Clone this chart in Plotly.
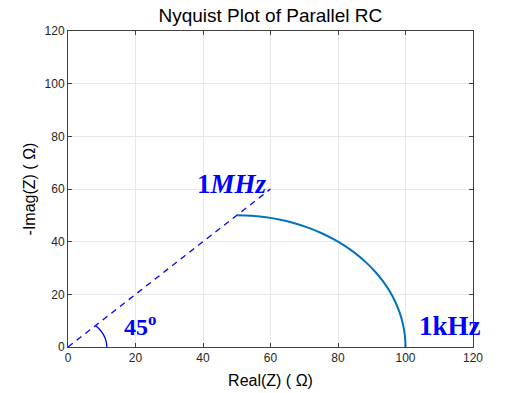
import plotly.graph_objects as go

# Nyquist curve of parallel RC
real_z = [100.0, 99.95, 99.81, 99.24, 98.30, 96.98, 95.32, 93.30, 90.96, 88.30, 85.36,
          82.14, 78.68, 75.00, 71.13, 67.10, 62.94, 58.68, 54.36, 50.00]
neg_imag_z = [0.0, 2.18, 4.36, 8.68, 12.94, 17.10, 21.13, 25.00, 28.68, 32.14, 35.36,
              38.30, 40.96, 43.30, 45.32, 46.98, 48.30, 49.24, 49.81, 50.00]

# 45 degree reference line
ref_x = [0, 60]
ref_y = [0, 60]

# angle arc
arc_x = [11.5, 11.40, 11.11, 10.62, 9.96, 9.12, 8.13]
arc_y = [0.0, 1.50, 2.98, 4.40, 5.75, 7.00, 8.13]

ticks = [0, 20, 40, 60, 80, 100, 120]

fig = go.Figure()
fig.add_trace(go.Scatter(x=ref_x, y=ref_y, mode="lines",
                         line=dict(color="#0000FF", width=1.3, dash="6px,5px"), hoverinfo="skip"))
fig.add_trace(go.Scatter(x=arc_x, y=arc_y, mode="lines", line_shape="spline",
                         line=dict(color="#0000FF", width=1.3), hoverinfo="skip"))
fig.add_trace(go.Scatter(x=real_z, y=neg_imag_z, mode="lines", line_shape="spline",
                         line=dict(color="#0072BD", width=2)))

serif = "Liberation Serif, Times New Roman, serif"
fig.add_annotation(x=48.6, y=62, text="<b>1<i>MHz</i></b>", showarrow=False,
                   font=dict(family=serif, size=27, color="#0000FF"))
fig.add_annotation(x=113.2, y=8, text="<b>1kHz</b>", showarrow=False,
                   font=dict(family=serif, size=27, color="#0000FF"))
fig.add_annotation(x=21.3, y=8.5, text="<b>45<sup>o</sup></b>", showarrow=False,
                   font=dict(family=serif, size=24, color="#0000FF"))

axis_common = dict(range=[0, 120], tickvals=ticks, ticks="inside", ticklen=4,
                   tickcolor="#404040", showline=True, linecolor="#404040", linewidth=1,
                   mirror="ticks", showgrid=True, gridcolor="#e8e8e8", gridwidth=1,
                   zeroline=False, tickfont=dict(size=12, color="#262626"),
                   automargin=False)

fig.update_layout(
    width=523, height=393,
    margin=dict(l=68, r=50, t=31, b=46),
    paper_bgcolor="white", plot_bgcolor="white",
    showlegend=False,
    font=dict(family="Liberation Sans, Arial, sans-serif", color="#000000"),
    title=dict(text="Nyquist Plot of Parallel RC", x=0.517, xanchor="center",
               y=0.962, yanchor="middle", font=dict(size=19, color="#000000")),
    xaxis=dict(axis_common, title=dict(text="Real(Z) ( Ω)", font=dict(size=16), standoff=10)),
    yaxis=dict(axis_common, title=dict(text="-Imag(Z) ( Ω)", font=dict(size=16), standoff=4)),
)

fig.write_html("out.html", config={"displayModeBar": False},
               post_script="document.body.style.margin='0px';")
